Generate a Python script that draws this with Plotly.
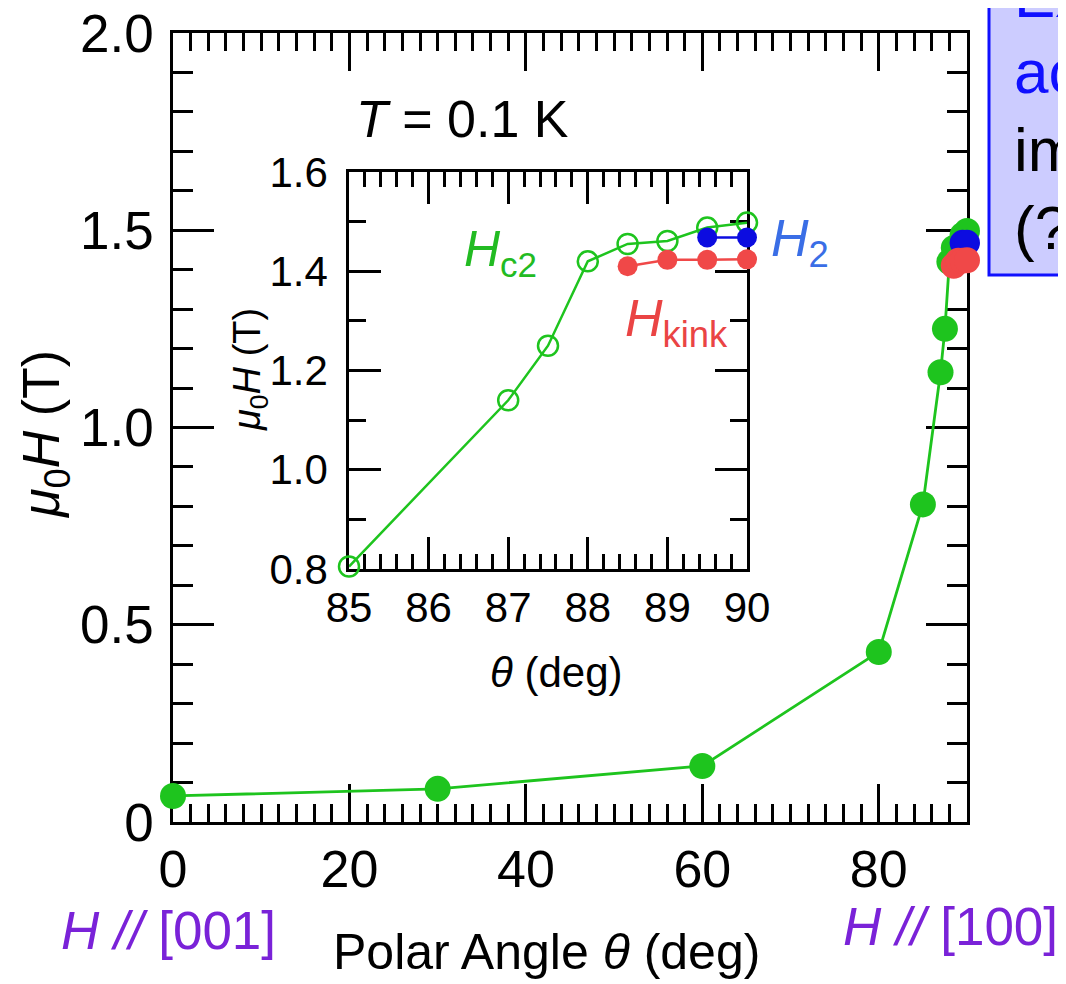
import plotly.graph_objects as go

# ---------------- data ----------------
theta_main = [0, 30, 60, 80, 85, 87, 87.5, 88, 88.5, 89, 89.5, 90]
hc2_main = [0.066, 0.084, 0.142, 0.431, 0.805, 1.14, 1.25, 1.42, 1.455, 1.461, 1.488, 1.498]

theta_h2 = [89.5, 90]
h2_vals = [1.468, 1.468]

theta_kink = [88.5, 89, 89.5, 90]
hkink_vals = [1.41, 1.423, 1.423, 1.424]

theta_inset = [85, 87, 87.5, 88, 88.5, 89, 89.5, 90]
hc2_inset = [0.805, 1.14, 1.25, 1.42, 1.455, 1.461, 1.488, 1.498]

main_xticks = [0, 20, 40, 60, 80]
main_xticktext = ["0", "20", "40", "60", "80"]
main_x_midticks = [10, 30, 50, 70]
main_yticks = [0, 0.5, 1.0, 1.5, 2.0]
main_yticktext = ["0", "0.5", "1.0", "1.5", "2.0"]

# ---------------- style ----------------
OFF = 8                      # default page body margin
W, H = 1066 - OFF, 984 - OFF  # figure size so that the figure ends at the window edge
GREEN = "#1ec41e"
RED = "#f04848"
BLUE = "#0c0ce0"
PURPLE = "#7a22d8"
FONT = "Liberation Sans"


def fx(p):
    return (p - OFF) / W


def fy(p):
    return 1 - (p - OFF) / H


fig = go.Figure()

# main plot traces
fig.add_trace(go.Scatter(x=theta_main, y=hc2_main, mode="lines+markers",
                         line=dict(color=GREEN, width=2.8),
                         marker=dict(size=26, color=GREEN),
                         cliponaxis=False, xaxis="x", yaxis="y", showlegend=False))
fig.add_trace(go.Scatter(x=theta_h2, y=h2_vals, mode="lines+markers",
                         line=dict(color=BLUE, width=2.8),
                         marker=dict(size=26, color=BLUE),
                         cliponaxis=False, xaxis="x", yaxis="y", showlegend=False))
fig.add_trace(go.Scatter(x=theta_kink, y=hkink_vals, mode="lines+markers",
                         line=dict(color=RED, width=2.8),
                         marker=dict(size=26, color=RED),
                         cliponaxis=False, xaxis="x", yaxis="y", showlegend=False))

# inset traces
fig.add_trace(go.Scatter(x=theta_inset, y=hc2_inset, mode="lines+markers",
                         line=dict(color=GREEN, width=2.5),
                         marker=dict(size=20, symbol="circle-open", color=GREEN,
                                     line=dict(width=2.5, color=GREEN)),
                         cliponaxis=False, xaxis="x2", yaxis="y2", showlegend=False))
fig.add_trace(go.Scatter(x=theta_h2, y=h2_vals, mode="lines+markers",
                         line=dict(color=BLUE, width=2.5),
                         marker=dict(size=20, color=BLUE),
                         cliponaxis=False, xaxis="x2", yaxis="y2", showlegend=False))
fig.add_trace(go.Scatter(x=theta_kink, y=hkink_vals, mode="lines+markers",
                         line=dict(color=RED, width=2.5),
                         marker=dict(size=20, color=RED),
                         cliponaxis=False, xaxis="x2", yaxis="y2", showlegend=False))

axis_common = dict(showline=True, linecolor="black", linewidth=2.5, mirror="ticks",
                   ticks="inside", tickcolor="black", tickwidth=2.5, automargin=False,
                   ticklabeloverflow="allow",
                   showgrid=False, zeroline=False, layer="below traces")

fig.update_layout(
    width=W, height=H,
    margin=dict(l=0, r=0, t=0, b=0, autoexpand=False),
    paper_bgcolor="white", plot_bgcolor="rgba(0,0,0,0)",
    font=dict(family=FONT, color="black"),
    xaxis=dict(domain=[fx(173), fx(967)], range=[0, 90], anchor="y",
               tickvals=main_xticks, ticktext=main_xticktext, ticklen=38,
               tickfont=dict(size=52, family=FONT), ticklabelstandoff=0,
               minor=dict(dtick=2, tick0=0, ticks="inside", ticklen=18,
                          tickwidth=2.5, tickcolor="black"),
               **axis_common),
    xaxis3=dict(overlaying="x", anchor="y", range=[0, 90],
                tickvals=main_x_midticks, ticks="inside", ticklen=28,
                tickwidth=2.5, tickcolor="black", mirror="ticks", automargin=False,
                showline=False, showticklabels=False, showgrid=False,
                zeroline=False),
    yaxis=dict(domain=[fy(822), fy(33)], range=[0, 2], anchor="x",
               tickvals=main_yticks, ticktext=main_yticktext, ticklen=41,
               tickfont=dict(size=53, family=FONT), ticklabelstandoff=6,
               minor=dict(dtick=0.1, tick0=0, ticks="inside", ticklen=20,
                          tickwidth=2.5, tickcolor="black"),
               **axis_common),
    xaxis2=dict(domain=[fx(349), fx(747)], range=[85, 90], anchor="y2",
                tick0=85, dtick=1, ticklen=32,
                tickfont=dict(size=42, family=FONT), ticklabelstandoff=0,
                minor=dict(dtick=0.2, tick0=85, ticks="inside", ticklen=15,
                           tickwidth=2.5, tickcolor="black"),
                **axis_common),
    yaxis2=dict(domain=[fy(569), fy(172)], range=[0.8, 1.6], anchor="x2",
                tick0=0.8, dtick=0.2, tickformat=".1f", ticklen=32,
                tickfont=dict(size=42, family=FONT), ticklabelstandoff=10,
                minor=dict(dtick=0.1, tick0=0.8, ticks="inside", ticklen=17,
                           tickwidth=2.5, tickcolor="black"),
                **axis_common),
)

# text box at top right
fig.add_shape(type="rect", xref="paper", yref="paper",
              x0=fx(989), x1=fx(1120), y0=fy(275), y1=fy(-30),
              line=dict(color="#1010ff", width=3), fillcolor="#ccccff", layer="above")

annots = [
    dict(text="Ex", x=fx(1012), y=fy(-4), color="#1010ff", size=62),
    dict(text="ac", x=fx(1012), y=fy(72), color="#1010ff", size=62),
    dict(text="im", x=fx(1012), y=fy(150), color="black", size=62),
    dict(text="(?", x=fx(1012), y=fy(228), color="black", size=62),
]
for a in annots:
    fig.add_annotation(text=a["text"], x=a["x"], y=a["y"], xref="paper", yref="paper",
                       xanchor="left", yanchor="middle", showarrow=False,
                       font=dict(size=a["size"], color=a["color"], family=FONT))

labels = [
    dict(text="<i>T</i> = 0.1 K", x=462, y=119, size=52, color="black", angle=0),
    dict(text="<i>μ</i><sub>0</sub><i>H</i> (T)", x=45, y=435, size=52, color="black", angle=-90),
    dict(text="Polar Angle <i>θ</i> (deg)", x=546, y=952, size=50, color="black", angle=0),
    dict(text="<i>H //</i> [001]", x=168, y=930, size=53, color=PURPLE, angle=0),
    dict(text="<i>H //</i> [100]", x=950, y=926, size=53, color=PURPLE, angle=0),
    dict(text="<i>μ</i><sub>0</sub><i>H</i> (T)", x=250, y=370, size=38, color="black", angle=-90),
    dict(text="<i>θ</i> (deg)", x=556, y=672, size=42, color="black", angle=0),
    dict(text="<i>H</i><sub>c2</sub>", x=500, y=252, size=50, color="#22bb22", angle=0),
    dict(text="<i>H</i><sub>2</sub>", x=800, y=242, size=52, color="#3a6ee6", angle=0),
    dict(text="<i>H</i><sub>kink</sub>", x=676, y=322, size=52, color="#ea4444", angle=0),
]
for a in labels:
    fig.add_annotation(text=a["text"], x=fx(a["x"]), y=fy(a["y"]), xref="paper", yref="paper",
                       xanchor="center", yanchor="middle", showarrow=False, textangle=a["angle"],
                       font=dict(size=a["size"], color=a["color"], family=FONT))

fig.write_html("out.html")
